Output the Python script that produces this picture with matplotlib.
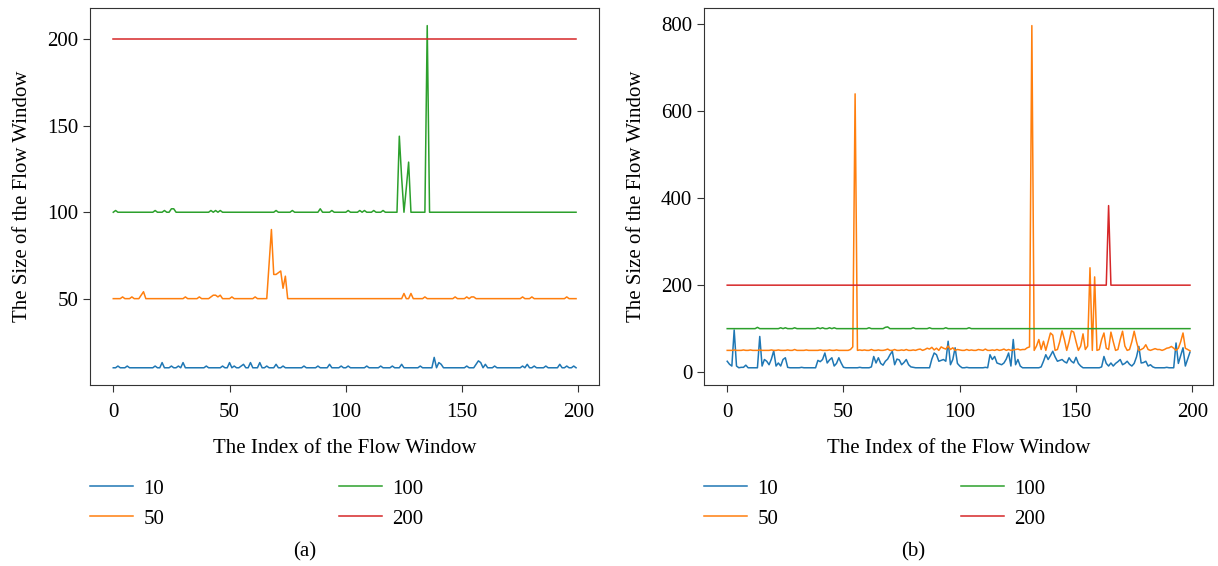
import matplotlib
matplotlib.use("Agg")
import matplotlib.pyplot as plt

plt.rcParams['font.family'] = ['Liberation Serif', 'DejaVu Serif']
plt.rcParams['font.size'] = 15

labels = ['10', '50', '100', '200']
colors = ['#1f77b4', '#ff7f0e', '#2ca02c', '#d62728']

# (a) flow window sizes
a_10 = [10, 10, 11, 10, 10, 10, 11, 10, 10, 10, 10, 10, 10, 10, 10, 10, 10, 10, 11, 10,
        10, 13, 10, 10, 10, 11, 10, 10, 11, 10, 13, 10, 10, 10, 10, 10, 10, 10, 10, 10,
        11, 10, 10, 10, 10, 10, 10, 11, 10, 10, 13, 10, 11, 10, 10, 11, 12, 10, 10, 13,
        10, 10, 10, 13, 10, 10, 11, 10, 10, 10, 12, 10, 10, 11, 10, 10, 10, 10, 10, 10,
        10, 10, 11, 10, 10, 10, 10, 10, 11, 10, 10, 10, 10, 12, 10, 10, 10, 10, 11, 10,
        10, 11, 10, 10, 10, 10, 10, 10, 10, 11, 10, 10, 10, 10, 10, 11, 10, 10, 10, 10,
        11, 10, 10, 10, 12, 10, 10, 10, 10, 10, 10, 10, 11, 10, 10, 10, 10, 10, 16, 10,
        13, 12, 10, 10, 10, 10, 10, 10, 10, 10, 10, 10, 11, 10, 10, 10, 12, 14, 13, 10,
        12, 10, 10, 10, 11, 10, 10, 10, 10, 10, 10, 10, 10, 10, 10, 10, 11, 10, 12, 10,
        10, 11, 10, 10, 10, 10, 11, 10, 10, 10, 10, 10, 12, 10, 10, 11, 10, 10, 11, 10]
a_50 = [50, 50, 50, 50, 51, 50, 50, 50, 51, 50, 50, 50, 52, 54, 50, 50, 50, 50, 50, 50,
        50, 50, 50, 50, 50, 50, 50, 50, 50, 50, 50, 51, 50, 50, 50, 50, 50, 51, 50, 50,
        50, 50, 51, 52, 52, 51, 52, 50, 50, 50, 50, 51, 50, 50, 50, 50, 50, 50, 50, 50,
        50, 51, 50, 50, 50, 50, 50, 70, 90, 64, 64, 65, 66, 56, 63, 50, 50, 50, 50, 50,
        50, 50, 50, 50, 50, 50, 50, 50, 50, 50, 50, 50, 50, 50, 50, 50, 50, 50, 50, 50,
        50, 50, 50, 50, 50, 50, 50, 50, 50, 50, 50, 50, 50, 50, 50, 50, 50, 50, 50, 50,
        50, 50, 50, 50, 50, 53, 50, 50, 53, 50, 50, 50, 50, 50, 51, 50, 50, 50, 50, 50,
        50, 50, 50, 50, 50, 50, 50, 51, 50, 50, 50, 50, 51, 50, 51, 51, 50, 50, 50, 50,
        50, 50, 50, 50, 50, 50, 50, 50, 50, 50, 50, 50, 50, 50, 50, 50, 51, 50, 50, 50,
        51, 50, 50, 50, 50, 50, 50, 50, 50, 50, 50, 50, 50, 50, 50, 51, 50, 50, 50, 50]
a_100 = [100, 101, 100, 100, 100, 100, 100, 100, 100, 100, 100, 100, 100, 100, 100, 100, 100, 100, 101, 100,
         100, 100, 101, 100, 100, 102, 102, 100, 100, 100, 100, 100, 100, 100, 100, 100, 100, 100, 100, 100,
         100, 100, 101, 100, 101, 100, 101, 100, 100, 100, 100, 100, 100, 100, 100, 100, 100, 100, 100, 100,
         100, 100, 100, 100, 100, 100, 100, 100, 100, 100, 101, 100, 100, 100, 100, 100, 100, 101, 100, 100,
         100, 100, 100, 100, 100, 100, 100, 100, 100, 102, 100, 100, 100, 100, 101, 100, 100, 100, 100, 100,
         100, 101, 100, 100, 100, 100, 101, 100, 101, 100, 100, 100, 101, 100, 100, 100, 101, 100, 100, 100,
         100, 100, 100, 144, 120, 100, 114, 129, 100, 100, 100, 100, 100, 100, 100, 208, 100, 100, 100, 100,
         100, 100, 100, 100, 100, 100, 100, 100, 100, 100, 100, 100, 100, 100, 100, 100, 100, 100, 100, 100,
         100, 100, 100, 100, 100, 100, 100, 100, 100, 100, 100, 100, 100, 100, 100, 100, 100, 100, 100, 100,
         100, 100, 100, 100, 100, 100, 100, 100, 100, 100, 100, 100, 100, 100, 100, 100, 100, 100, 100, 100]
a_200 = [200, 200, 200, 200, 200, 200, 200, 200, 200, 200, 200, 200, 200, 200, 200, 200, 200, 200, 200, 200,
         200, 200, 200, 200, 200, 200, 200, 200, 200, 200, 200, 200, 200, 200, 200, 200, 200, 200, 200, 200,
         200, 200, 200, 200, 200, 200, 200, 200, 200, 200, 200, 200, 200, 200, 200, 200, 200, 200, 200, 200,
         200, 200, 200, 200, 200, 200, 200, 200, 200, 200, 200, 200, 200, 200, 200, 200, 200, 200, 200, 200,
         200, 200, 200, 200, 200, 200, 200, 200, 200, 200, 200, 200, 200, 200, 200, 200, 200, 200, 200, 200,
         200, 200, 200, 200, 200, 200, 200, 200, 200, 200, 200, 200, 200, 200, 200, 200, 200, 200, 200, 200,
         200, 200, 200, 200, 200, 200, 200, 200, 200, 200, 200, 200, 200, 200, 200, 200, 200, 200, 200, 200,
         200, 200, 200, 200, 200, 200, 200, 200, 200, 200, 200, 200, 200, 200, 200, 200, 200, 200, 200, 200,
         200, 200, 200, 200, 200, 200, 200, 200, 200, 200, 200, 200, 200, 200, 200, 200, 200, 200, 200, 200,
         200, 200, 200, 200, 200, 200, 200, 200, 200, 200, 200, 200, 200, 200, 200, 200, 200, 200, 200, 200]

# (b) flow window sizes
b_10 = [25, 18, 14, 97, 14, 10, 11, 11, 16, 10, 10, 10, 10, 10, 82, 14, 29, 25, 17, 30,
        49, 14, 21, 14, 29, 33, 11, 10, 10, 10, 10, 10, 11, 10, 10, 10, 10, 10, 10, 27,
        24, 29, 44, 21, 28, 33, 14, 20, 33, 21, 11, 10, 10, 10, 10, 10, 10, 11, 10, 10,
        10, 10, 12, 36, 21, 33, 20, 16, 25, 30, 40, 48, 17, 30, 28, 17, 22, 29, 17, 12,
        11, 10, 10, 10, 10, 10, 10, 10, 30, 44, 40, 25, 27, 29, 25, 71, 17, 29, 56, 20,
        14, 10, 10, 11, 10, 10, 10, 10, 10, 10, 10, 11, 10, 40, 29, 36, 21, 19, 17, 21,
        30, 44, 14, 75, 17, 29, 14, 10, 10, 10, 10, 10, 10, 10, 10, 12, 25, 40, 29, 38,
        48, 35, 25, 27, 29, 24, 21, 33, 25, 21, 34, 20, 14, 10, 10, 10, 10, 10, 10, 10,
        10, 12, 36, 20, 14, 21, 14, 20, 24, 29, 17, 20, 25, 18, 14, 20, 35, 59, 21, 22,
        25, 14, 17, 12, 10, 10, 10, 10, 10, 11, 10, 10, 10, 67, 20, 38, 56, 14, 30, 46]
b_50 = [50, 50, 50, 51, 50, 50, 50, 51, 50, 50, 51, 50, 50, 50, 51, 50, 50, 50, 50, 51,
        50, 50, 51, 50, 50, 50, 51, 50, 50, 52, 50, 50, 50, 50, 51, 50, 50, 50, 50, 50,
        51, 50, 50, 50, 51, 50, 50, 51, 50, 50, 50, 50, 50, 52, 58, 640, 50, 51, 50, 51,
        50, 50, 52, 50, 50, 51, 50, 50, 51, 53, 50, 50, 52, 50, 50, 51, 50, 52, 50, 50,
        51, 50, 52, 53, 50, 52, 55, 53, 57, 51, 55, 50, 58, 55, 53, 60, 52, 56, 50, 52,
        51, 50, 50, 52, 50, 51, 50, 50, 52, 51, 50, 53, 50, 50, 51, 50, 52, 50, 51, 53,
        50, 52, 50, 51, 52, 53, 51, 52, 52, 56, 58, 797, 50, 60, 75, 52, 71, 50, 70, 90,
        85, 50, 52, 70, 95, 75, 50, 70, 95, 92, 70, 50, 60, 88, 52, 60, 240, 50, 219, 50,
        52, 75, 90, 55, 52, 92, 70, 50, 52, 75, 94, 60, 50, 52, 70, 94, 70, 50, 52, 55,
        63, 52, 50, 52, 54, 52, 52, 50, 52, 55, 56, 59, 55, 50, 55, 70, 90, 55, 52, 49]
b_100 = [100, 100, 100, 100, 100, 100, 100, 100, 100, 100, 100, 100, 100, 103, 100, 100, 100, 100, 100, 100,
         100, 100, 100, 102, 100, 102, 100, 100, 100, 102, 100, 100, 100, 100, 100, 100, 100, 100, 100, 102,
         100, 102, 100, 100, 102, 100, 102, 100, 100, 100, 100, 100, 100, 100, 100, 100, 100, 100, 100, 100,
         100, 102, 100, 100, 100, 100, 100, 100, 103, 104, 100, 100, 100, 100, 100, 100, 100, 100, 100, 100,
         102, 100, 100, 100, 100, 100, 100, 102, 100, 100, 100, 100, 100, 100, 102, 100, 100, 100, 100, 100,
         100, 100, 100, 100, 102, 100, 100, 100, 100, 100, 100, 100, 100, 100, 100, 100, 100, 100, 100, 100,
         100, 100, 100, 100, 100, 100, 100, 100, 100, 100, 100, 100, 100, 100, 100, 100, 100, 100, 100, 100,
         100, 100, 100, 100, 100, 100, 100, 100, 100, 100, 100, 100, 100, 100, 100, 100, 100, 100, 100, 100,
         100, 100, 100, 100, 100, 100, 100, 100, 100, 100, 100, 100, 100, 100, 100, 100, 100, 100, 100, 100,
         100, 100, 100, 100, 100, 100, 100, 100, 100, 100, 100, 100, 100, 100, 100, 100, 100, 100, 100, 100]
b_200 = [200, 200, 200, 200, 200, 200, 200, 200, 200, 200, 200, 200, 200, 200, 200, 200, 200, 200, 200, 200,
         200, 200, 200, 200, 200, 200, 200, 200, 200, 200, 200, 200, 200, 200, 200, 200, 200, 200, 200, 200,
         200, 200, 200, 200, 200, 200, 200, 200, 200, 200, 200, 200, 200, 200, 200, 200, 200, 200, 200, 200,
         200, 200, 200, 200, 200, 200, 200, 200, 200, 200, 200, 200, 200, 200, 200, 200, 200, 200, 200, 200,
         200, 200, 200, 200, 200, 200, 200, 200, 200, 200, 200, 200, 200, 200, 200, 200, 200, 200, 200, 200,
         200, 200, 200, 200, 200, 200, 200, 200, 200, 200, 200, 200, 200, 200, 200, 200, 200, 200, 200, 200,
         200, 200, 200, 200, 200, 200, 200, 200, 200, 200, 200, 200, 200, 200, 200, 200, 200, 200, 200, 200,
         200, 200, 200, 200, 200, 200, 200, 200, 200, 200, 200, 200, 200, 200, 200, 200, 200, 200, 200, 200,
         200, 200, 200, 200, 383, 200, 200, 200, 200, 200, 200, 200, 200, 200, 200, 200, 200, 200, 200, 200,
         200, 200, 200, 200, 200, 200, 200, 200, 200, 200, 200, 200, 200, 200, 200, 200, 200, 200, 200, 200]

panels = [[a_10, a_50, a_100, a_200], [b_10, b_50, b_100, b_200]]
captions = ['(a)', '(b)']
col_space = [8.4, 8.8]

fig, axes = plt.subplots(1, 2, figsize=(12.18, 5.66), dpi=100)
fig.subplots_adjust(left=0.074, right=0.996, bottom=0.32, top=0.985, wspace=0.206)

for k, ax in enumerate(axes):
    for series, lab, c in zip(panels[k], labels, colors):
        ax.plot(range(len(series)), series, color=c, lw=1.1, label=lab)
    ax.set_xticks([0, 50, 100, 150, 200])
    ax.set_xlabel('The Index of the Flow Window', labelpad=12)
    ax.set_ylabel('The Size of the Flow Window', labelpad=11)
    for sp in ax.spines.values():
        sp.set_color('#333333')
    ax.tick_params(colors='#333333', labelcolor='black', length=5)
    ax.tick_params(axis='x', pad=8)
    ax.legend(loc='upper left', bbox_to_anchor=(0.0, -0.25), ncol=2, frameon=False,
              borderaxespad=0, borderpad=0, handlelength=2.05, handletextpad=0.5,
              columnspacing=col_space[k], labelspacing=0.5)
    fig.text(0.25 + 0.5 * k, 1 - 552 / 566, captions[k], ha='center', va='center')

axes[0].set_yticks([50, 100, 150, 200])
axes[1].set_yticks([0, 200, 400, 600, 800])

fig.savefig('out.png')
